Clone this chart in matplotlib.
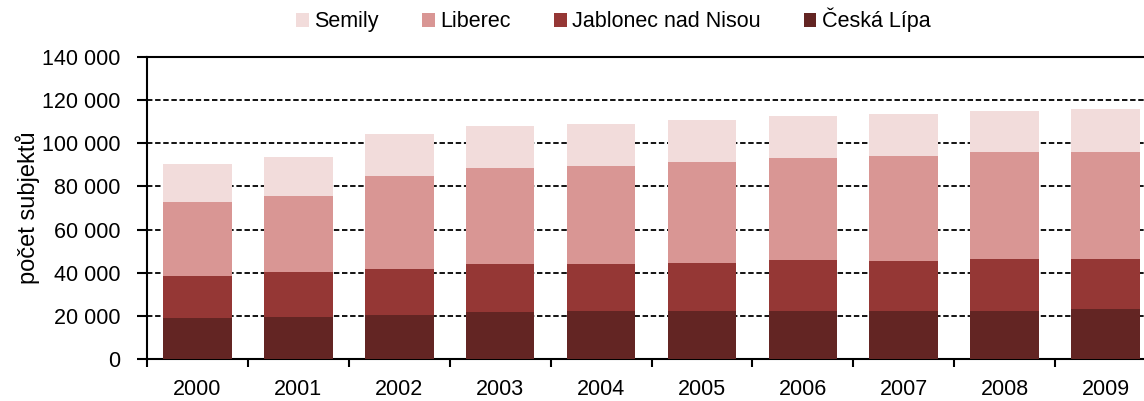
import matplotlib
matplotlib.use("Agg")
import matplotlib.pyplot as plt
from matplotlib.ticker import FuncFormatter, FixedLocator
import numpy as np

years = ["2000", "2001", "2002", "2003", "2004", "2005", "2006", "2007", "2008", "2009"]
ceska_lipa = [19.0, 19.7, 20.6, 21.8, 22.5, 22.5, 22.5, 22.5, 22.5, 23.4]
jablonec = [19.4, 20.7, 21.3, 22.2, 21.5, 22.2, 23.3, 23.2, 23.9, 23.0]
liberec = [34.3, 35.1, 42.8, 44.4, 45.4, 46.5, 47.3, 48.4, 49.4, 49.4]
semily = [17.6, 18.3, 19.5, 19.6, 19.4, 19.4, 19.5, 19.3, 19.3, 20.2]
series_names = ["Semily", "Liberec", "Jablonec nad Nisou", "Česká Lípa"]
colors = {"Semily": "#F2DCDB", "Liberec": "#D99694",
          "Jablonec nad Nisou": "#953735", "Česká Lípa": "#632523"}
y_label = "počet subjektů"

plt.rcParams['font.family'] = ['Liberation Sans', 'DejaVu Sans']
FS = 15.5

fig = plt.figure(figsize=(11.44, 4.01), dpi=100)
ax = fig.add_axes([0.1285, 0.104, 0.882, 0.7546])

x = np.arange(len(years))
data = {"Česká Lípa": np.array(ceska_lipa) * 1000,
        "Jablonec nad Nisou": np.array(jablonec) * 1000,
        "Liberec": np.array(liberec) * 1000,
        "Semily": np.array(semily) * 1000}
bottom = np.zeros(len(years))
handles = {}
for name in ["Česká Lípa", "Jablonec nad Nisou", "Liberec", "Semily"]:
    h = ax.bar(x, data[name], 0.68, bottom=bottom, color=colors[name],
               linewidth=0, zorder=3, label=name)
    handles[name] = h
    bottom = bottom + data[name]

ax.set_xlim(-0.5, len(years) - 0.5)
ax.set_ylim(0, 140000)
ax.set_yticks(np.arange(0, 140001, 20000))
ax.yaxis.set_major_formatter(FuncFormatter(lambda v, p: f"{int(v):,}".replace(",", " ")))
ax.set_xticks(x)
ax.set_xticklabels(years)
ax.xaxis.set_minor_locator(FixedLocator(np.arange(-0.5, len(years), 1.0)))
ax.tick_params(axis='x', which='major', length=0, pad=14, labelsize=FS)
ax.tick_params(axis='x', which='minor', length=6, width=1.5, direction='out')
ax.tick_params(axis='y', which='major', length=7, width=1.5, direction='out', pad=12, labelsize=FS)

ax.yaxis.grid(True, linestyle=(0, (3, 1.5)), color='black', linewidth=1.3, zorder=0)
ax.set_axisbelow(True)
for s in ['left', 'bottom', 'top']:
    ax.spines[s].set_linewidth(1.5)
    ax.spines[s].set_color('black')
ax.spines['right'].set_visible(False)

ax.set_ylabel(y_label, fontsize=17)
ax.yaxis.set_label_coords(-0.106, 0.5)

fig.legend([handles[n] for n in series_names], series_names, loc='center',
           bbox_to_anchor=(0.536, 0.95), ncol=4, frameon=False, fontsize=FS,
           handlelength=0.6, handleheight=0.6, handletextpad=0.25, columnspacing=2.0)

fig.savefig("out.png", dpi=100)
